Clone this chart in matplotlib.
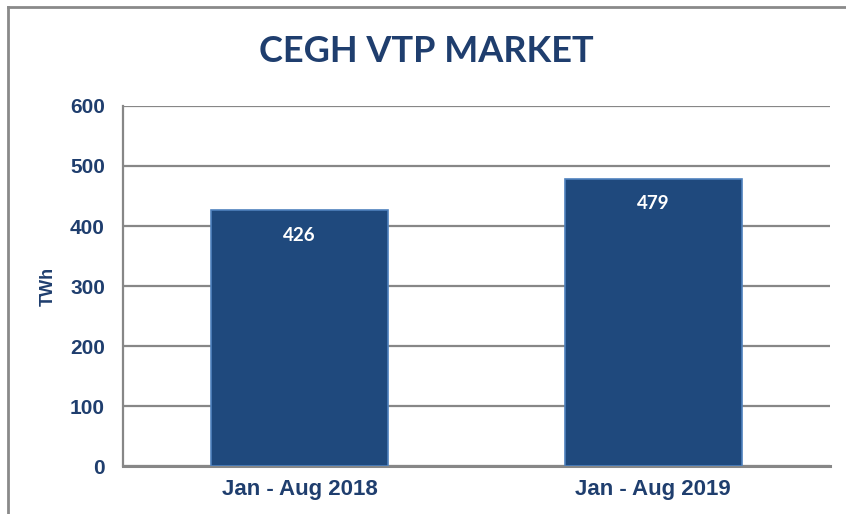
import matplotlib
matplotlib.use("Agg")
import matplotlib.pyplot as plt
from matplotlib.lines import Line2D

categories = ["Jan - Aug 2018", "Jan - Aug 2019"]
values = [426, 479]
yticks = [0, 100, 200, 300, 400, 500, 600]
title = "CEGH VTP MARKET"
ylabel = "TWh"

W, H = 846, 514
fig = plt.figure(figsize=(W / 100, H / 100), dpi=100)
ax = fig.add_axes([123 / W, 1 - 466 / H, (830 - 123) / W, (466 - 106) / H])

navy = "#1F497D"
text_col = "#1F3E6E"
grid_col = "#878787"

x = list(range(len(categories)))
bars = ax.bar(x, values, width=0.5, color=navy, edgecolor="#4F81BD", linewidth=1.2, zorder=3)

ax.set_xlim(-0.5, len(categories) - 0.5)
ax.set_ylim(0, 600)
ax.set_yticks(yticks)
ax.set_yticklabels([str(t) for t in yticks], fontfamily=["Liberation Sans", "DejaVu Sans"],
                   fontweight="bold", fontsize=15, color=text_col)
ax.set_xticks(x)
ax.set_xticklabels(categories, fontfamily=["Liberation Sans Narrow", "Liberation Sans", "DejaVu Sans"],
                   fontweight="bold", fontsize=16, color=text_col)
ax.tick_params(axis="both", length=0)
ax.tick_params(axis="y", pad=13)
ax.tick_params(axis="x", pad=9)

ax.grid(axis="y", color=grid_col, linewidth=1.6, zorder=0)
for s in ["top", "right"]:
    ax.spines[s].set_visible(False)
ax.spines["left"].set_color(grid_col)
ax.spines["left"].set_linewidth(1.6)
ax.spines["bottom"].set_color(grid_col)
ax.spines["bottom"].set_linewidth(2.2)

ax.set_ylabel(ylabel, fontfamily=["Liberation Sans", "DejaVu Sans"], fontweight="bold",
              fontsize=13, color=text_col)
ax.yaxis.set_label_coords(-0.094, 0.5)

for b, v in zip(bars, values):
    ax.annotate(str(v), (b.get_x() + b.get_width() / 2, v), xytext=(0, -25),
                textcoords="offset pixels", ha="center", va="center",
                fontfamily=["Lato", "DejaVu Sans"], fontweight="bold", fontsize=13.5, color="white", zorder=4)

fig.text(426 / W, 1 - 52 / H, title, ha="center", va="center",
         fontfamily=["Lato", "DejaVu Sans"], fontweight="bold", fontsize=26, color=text_col)

# outer frame (left and top edges)
fig.add_artist(Line2D([8 / W, 8 / W], [0, 1 - 7 / H], transform=fig.transFigure, color="#8A8A8A", linewidth=2))
fig.add_artist(Line2D([8 / W, 1], [1 - 7 / H, 1 - 7 / H], transform=fig.transFigure, color="#8A8A8A", linewidth=2))

fig.savefig("out.png", dpi=100)
